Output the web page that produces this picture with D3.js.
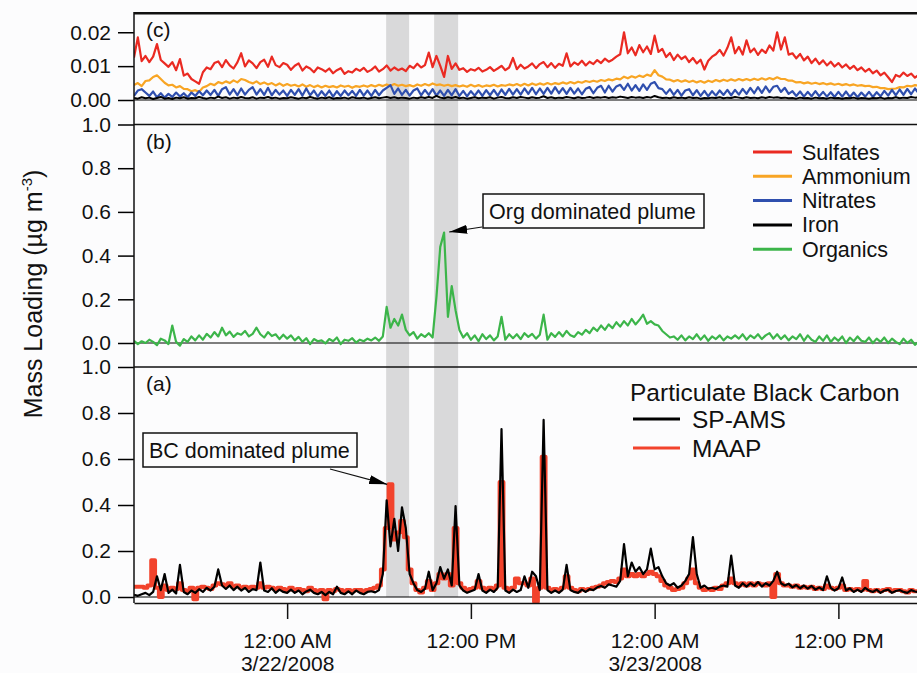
<!DOCTYPE html>
<html>
<head>
<meta charset="utf-8">
<script src="https://cdnjs.cloudflare.com/ajax/libs/d3/7.8.5/d3.min.js"></script>
<style>
  body { margin: 0; background: #fcfcfd; }
  svg { display: block; font-family: "Liberation Sans", Arial, Helvetica, sans-serif; }
</style>
</head>
<body>
<svg id="chart" width="917" height="673"></svg>
<script>
// 15 minute samples starting 3/21/2008 2:00 PM
var startTime = new Date(2008, 2, 21, 14, 0)
  , stepMinutes = 15;

// panel (c)
var sulfates = [
  0.0125, 0.0185, 0.0115, 0.013, 0.0112, 0.0128, 0.0165, 0.0118, 0.0108, 0.0098,
  0.0112, 0.0088, 0.0121, 0.0072, 0.0078, 0.0062, 0.0055, 0.0048, 0.0082, 0.0096,
  0.0091, 0.0109, 0.0114, 0.0097, 0.0118, 0.0102, 0.0093, 0.0111, 0.0138, 0.0099,
  0.0117, 0.0108, 0.0094, 0.0112, 0.0119, 0.0098, 0.0128, 0.0103, 0.0097, 0.0109,
  0.0104, 0.0089, 0.0101, 0.0108, 0.0087, 0.0099, 0.0093, 0.0082, 0.0096, 0.0091,
  0.0084, 0.0093, 0.0079, 0.0088, 0.0094, 0.0077, 0.0085, 0.0081, 0.0092, 0.0086,
  0.0095, 0.0083, 0.0089, 0.0099, 0.0084, 0.0091, 0.0102, 0.0087, 0.0096, 0.0088,
  0.0093, 0.0085, 0.0101, 0.0094, 0.0107, 0.0096, 0.0103, 0.014, 0.0097, 0.013,
  0.0101, 0.0068, 0.013, 0.0092, 0.0108, 0.0089, 0.0094, 0.0083, 0.0091, 0.0087,
  0.0095, 0.0084, 0.0089, 0.0097, 0.0086, 0.0093, 0.0101, 0.0088, 0.0096, 0.0124,
  0.0091, 0.0104, 0.0093, 0.0099, 0.0108, 0.0094, 0.0106, 0.0112, 0.0097, 0.0109,
  0.0095, 0.0107, 0.0101, 0.0138, 0.0099, 0.0111, 0.0104, 0.0116, 0.0102, 0.0113,
  0.0106, 0.0118, 0.0109, 0.0122, 0.0113, 0.0119, 0.0128, 0.0135, 0.02, 0.0138,
  0.0155, 0.0132, 0.0162, 0.0141, 0.0158, 0.0136, 0.019, 0.0142, 0.0151, 0.0127,
  0.0139, 0.0118, 0.0134, 0.0121, 0.0129, 0.0112, 0.0124, 0.0108, 0.0119, 0.009,
  0.0116, 0.0128, 0.0135, 0.0148, 0.0131, 0.0154, 0.0185, 0.0138, 0.0157, 0.0134,
  0.0176, 0.0141, 0.0152, 0.0133, 0.0149, 0.0139, 0.0161, 0.0146, 0.02, 0.0149,
  0.0185, 0.0134, 0.0138, 0.0123, 0.0136, 0.0117, 0.0128, 0.0109, 0.0122, 0.0106,
  0.0117, 0.0102, 0.0113, 0.0099, 0.0109, 0.0096, 0.0105, 0.0092, 0.0101, 0.0088,
  0.0096, 0.0084, 0.0092, 0.0079, 0.0087, 0.0073, 0.0081, 0.0067, 0.0053, 0.0074,
  0.0069, 0.0081, 0.0071, 0.0078, 0.0066, 0.0074
];

var ammonium = [
  0.0044, 0.005, 0.0041, 0.0056, 0.0058, 0.0068, 0.0073, 0.0062, 0.0051, 0.0043,
  0.0045, 0.0037, 0.0041, 0.0033, 0.0032, 0.0026, 0.0029, 0.0024, 0.0037, 0.0041,
  0.0048, 0.0044, 0.0053, 0.0049, 0.0055, 0.005, 0.0058, 0.0052, 0.0062, 0.0059,
  0.0053, 0.0049, 0.0055, 0.0047, 0.0052, 0.0046, 0.005, 0.0043, 0.0049, 0.0042,
  0.0047, 0.0042, 0.0045, 0.004, 0.0046, 0.0039, 0.0044, 0.0038, 0.0043, 0.0037,
  0.0042, 0.0038, 0.0041, 0.0037, 0.0043, 0.0039, 0.0042, 0.0036, 0.0041, 0.0039,
  0.0043, 0.0039, 0.0044, 0.004, 0.0045, 0.0041, 0.0046, 0.0042, 0.0047, 0.0042,
  0.0045, 0.0041, 0.0044, 0.004, 0.0046, 0.0042, 0.0047, 0.0043, 0.0049, 0.0044,
  0.0046, 0.0042, 0.0045, 0.0041, 0.0044, 0.004, 0.0043, 0.0039, 0.0045, 0.004,
  0.0044, 0.0039, 0.0043, 0.0041, 0.0045, 0.004, 0.0044, 0.0042, 0.0046, 0.0043,
  0.0047, 0.0042, 0.0048, 0.0043, 0.0049, 0.0044, 0.0049, 0.0045, 0.005, 0.0046,
  0.005, 0.0047, 0.0052, 0.0048, 0.0053, 0.0049, 0.0054, 0.0051, 0.0056, 0.0053,
  0.0057, 0.0054, 0.0059, 0.0056, 0.0061, 0.0058, 0.0063, 0.0061, 0.0069, 0.0064,
  0.007, 0.0066, 0.0072, 0.0068, 0.0075, 0.0071, 0.0088, 0.0073, 0.0069, 0.0061,
  0.006, 0.0055, 0.0059, 0.0054, 0.0058, 0.0053, 0.0057, 0.0052, 0.0056, 0.0051,
  0.0057, 0.0053, 0.0059, 0.0055, 0.006, 0.0056, 0.0061, 0.0057, 0.0062, 0.0058,
  0.0062, 0.0058, 0.0063, 0.0059, 0.0064, 0.006, 0.0065, 0.0061, 0.0067, 0.0062,
  0.0062, 0.0057, 0.0057, 0.0052, 0.0053, 0.0049, 0.0052, 0.0048, 0.0051, 0.0047,
  0.005, 0.0046, 0.0049, 0.0045, 0.0048, 0.0044, 0.0047, 0.0043, 0.0046, 0.0042,
  0.0044, 0.0041, 0.0042, 0.0038, 0.0039, 0.0035, 0.0035, 0.0032, 0.0033, 0.0034,
  0.0038, 0.0037, 0.0042, 0.004, 0.0044, 0.0042
];

var nitrates = [
  0.0012, 0.0028, 0.0032, 0.0022, 0.0012, 0.0025, 0.0008, 0.002, 0.0007, 0.0018,
  0.0009, 0.0022, 0.001, 0.002, 0.0008, 0.0022, 0.0012, 0.0026, 0.0014, 0.0028,
  0.0015, 0.003, 0.0012, 0.0032, 0.0038, 0.0016, 0.0032, 0.0014, 0.0034, 0.0016,
  0.003, 0.0038, 0.0016, 0.0032, 0.0015, 0.0036, 0.0014, 0.003, 0.0016, 0.0028,
  0.0012, 0.003, 0.0015, 0.0032, 0.0013, 0.0034, 0.0014, 0.0028, 0.001, 0.0026,
  0.0012, 0.0028, 0.001, 0.0026, 0.0012, 0.0028, 0.0014, 0.0027, 0.0012, 0.003,
  0.0013, 0.0028, 0.0012, 0.003, 0.0014, 0.0028, 0.0036, 0.0044, 0.0018, 0.0034,
  0.0015, 0.003, 0.0013, 0.0028, 0.0034, 0.0014, 0.003, 0.0015, 0.0032, 0.0013,
  0.0028, 0.0012, 0.003, 0.0014, 0.0032, 0.0012, 0.0027, 0.0011, 0.0026, 0.0013,
  0.0028, 0.0012, 0.0029, 0.0014, 0.003, 0.0013, 0.0031, 0.0015, 0.0033, 0.0016,
  0.0032, 0.0016, 0.0034, 0.0018, 0.0036, 0.0017, 0.0034, 0.0018, 0.0036, 0.0019,
  0.0038, 0.002, 0.0035, 0.0018, 0.0036, 0.0019, 0.0034, 0.0017, 0.0033, 0.0038,
  0.002, 0.0036, 0.0042, 0.0022, 0.0042, 0.0025, 0.004, 0.0045, 0.003, 0.0048,
  0.0028, 0.0044, 0.0027, 0.0046, 0.003, 0.0048, 0.0053, 0.0035, 0.0032, 0.0018,
  0.0032, 0.0015, 0.003, 0.0013, 0.0028, 0.0032, 0.0014, 0.0029, 0.0012, 0.0027,
  0.0011, 0.0026, 0.0013, 0.0028, 0.0015, 0.003, 0.0014, 0.003, 0.0016, 0.0033,
  0.0018, 0.0036, 0.002, 0.0038, 0.0021, 0.004, 0.0023, 0.0039, 0.0042, 0.0024,
  0.0036, 0.0018, 0.0026, 0.0012, 0.0025, 0.001, 0.0024, 0.0011, 0.0026, 0.0011,
  0.0024, 0.001, 0.0023, 0.0009, 0.0024, 0.001, 0.0025, 0.0009, 0.0022, 0.0008,
  0.0022, 0.001, 0.0024, 0.0009, 0.0023, 0.0011, 0.0027, 0.0013, 0.003, 0.0014,
  0.0031, 0.0015, 0.0033, 0.0017, 0.0034, 0.0019
];

var iron = [
  0.0006, 0.0004, 0.0008, 0.0005, 0.0007, 0.0003, 0.0006, 0.0009, 0.0004, 0.0006,
  0.0003, 0.0007, 0.0005, 0.0008, 0.0004, 0.0006, 0.0005, 0.0009, 0.0006, 0.0004,
  0.0007, 0.0005, 0.001, 0.0006, 0.0008, 0.0004, 0.0007, 0.0005, 0.0009, 0.0006,
  0.0005, 0.0008, 0.0004, 0.0007, 0.0006, 0.0009, 0.0005, 0.0007, 0.0004, 0.0006,
  0.0005, 0.0008, 0.0006, 0.0004, 0.0007, 0.0005, 0.0009, 0.0006, 0.0004, 0.0007,
  0.0005, 0.0008, 0.0004, 0.0006, 0.0005, 0.0007, 0.0004, 0.0008, 0.0006, 0.0005,
  0.0007, 0.0004, 0.0006, 0.0008, 0.0005, 0.0007, 0.0009, 0.0006, 0.0008, 0.0005,
  0.0007, 0.0006, 0.0004, 0.0007, 0.0005, 0.0008, 0.0006, 0.0009, 0.0006, 0.0012,
  0.0007, 0.0005, 0.0008, 0.0006, 0.0009, 0.0005, 0.0007, 0.0004, 0.0006, 0.0008,
  0.0005, 0.0007, 0.0006, 0.0008, 0.0004, 0.0007, 0.0009, 0.0006, 0.0005, 0.0008,
  0.0006, 0.0009, 0.0007, 0.0005, 0.0008, 0.0006, 0.0007, 0.0011, 0.0006, 0.0008,
  0.0005, 0.0007, 0.0006, 0.0009, 0.0007, 0.0005, 0.0008, 0.0006, 0.0007, 0.0009,
  0.0006, 0.0008, 0.0007, 0.0009, 0.0006, 0.0008, 0.0007, 0.001, 0.0008, 0.0006,
  0.0009, 0.0007, 0.0008, 0.0006, 0.0009, 0.0007, 0.0012, 0.0008, 0.0006, 0.0007,
  0.0005, 0.0008, 0.0006, 0.0007, 0.0005, 0.0008, 0.0006, 0.0007, 0.0004, 0.0006,
  0.0005, 0.0007, 0.0006, 0.0008, 0.0005, 0.0007, 0.0006, 0.0009, 0.0007, 0.0005,
  0.0008, 0.0006, 0.0007, 0.0005, 0.0008, 0.0006, 0.0009, 0.0007, 0.0008, 0.0006,
  0.0007, 0.0005, 0.0006, 0.0004, 0.0007, 0.0005, 0.0006, 0.0004, 0.0007, 0.0005,
  0.0006, 0.0004, 0.0007, 0.0005, 0.0006, 0.0004, 0.0006, 0.0005, 0.0007, 0.0004,
  0.0006, 0.0005, 0.0004, 0.0006, 0.0005, 0.0007, 0.0004, 0.0006, 0.0005, 0.0008,
  0.0005, 0.0007, 0.0006, 0.0009, 0.0007, 0.0008
];

// panel (b)
var organics = [
  0.01, -0.005, 0.008, 0.0, 0.015, 0.005, -0.01, 0.02, 0.012, -0.005,
  0.08, 0.005, -0.012, 0.018, 0.005, 0.03, 0.012, 0.035, 0.015, 0.042,
  0.025, 0.05, 0.03, 0.07, 0.035, 0.052, 0.028, 0.045, 0.038, 0.055,
  0.03, 0.042, 0.07, 0.04, 0.025, 0.05, 0.032, 0.04, 0.018, 0.038,
  0.02, 0.035, 0.012, 0.028, 0.005, 0.022, -0.005, 0.018, 0.008, 0.012,
  -0.002, 0.018, 0.008, 0.025, -0.005, 0.015, 0.01, 0.022, 0.002, 0.015,
  0.008, 0.02, 0.012, 0.025, 0.01, 0.03, 0.165, 0.07, 0.11, 0.08,
  0.13, 0.06, 0.035, 0.05, 0.02, 0.04, 0.028, 0.045, 0.025, 0.21,
  0.44, 0.505, 0.12, 0.26, 0.15, 0.06, 0.025, 0.045, 0.015, 0.035,
  0.008, 0.04, 0.018, 0.035, 0.012, 0.03, 0.12, 0.015, 0.04, 0.022,
  0.04, 0.018, 0.045, 0.028, 0.042, 0.02, 0.038, 0.13, 0.015, 0.045,
  0.028, 0.05, 0.03, 0.055, 0.035, 0.028, 0.05, 0.038, 0.06, 0.045,
  0.07, 0.055, 0.08, 0.06, 0.085, 0.068, 0.095, 0.075, 0.1, 0.08,
  0.11, 0.085, 0.105, 0.13, 0.088, 0.1, 0.085, 0.08, 0.055, 0.04,
  0.025, 0.03, 0.015, 0.035, 0.012, 0.03, 0.018, 0.04, 0.015, 0.035,
  0.01, 0.03, 0.018, 0.035, 0.012, 0.03, 0.02, 0.035, 0.02, 0.04,
  0.015, 0.035, 0.022, 0.04, 0.018, 0.035, 0.045, 0.02, 0.04, 0.018,
  0.035, 0.012, 0.03, 0.018, 0.04, 0.01, 0.035, 0.015, 0.005, 0.03,
  0.01, 0.035, 0.005, 0.025, 0.01, 0.03, 0.0, 0.025, 0.008, 0.03,
  0.01, 0.005, 0.025, 0.0, 0.02, 0.005, 0.025, 0.0, 0.02, 0.005,
  -0.005, 0.02, 0.0, 0.015, -0.008, 0.005
];

// panel (a) particulate black carbon
var spAms = [
  0.01, 0.005, 0.012, 0.018, 0.008, 0.022, 0.09, 0.03, 0.10, 0.018,
  0.032, 0.015, 0.14, 0.022, 0.012, 0.028, 0.018, 0.034, 0.022, 0.04,
  0.028, 0.045, 0.12, 0.05, 0.035, 0.05, 0.03, 0.045, 0.028, 0.04,
  0.022, 0.034, 0.03, 0.15, 0.028, 0.022, 0.038, 0.018, 0.032, 0.022,
  0.018, 0.032, 0.018, 0.028, 0.012, 0.024, 0.032, 0.018, 0.012, 0.022,
  0.008, 0.022, 0.012, 0.045, 0.018, 0.012, 0.024, 0.012, 0.028, 0.018,
  0.012, 0.022, 0.025, 0.02, 0.03, 0.10, 0.42, 0.22, 0.34, 0.20,
  0.39, 0.30, 0.10, 0.06, 0.03, 0.022, 0.035, 0.11, 0.03, 0.06,
  0.13, 0.08, 0.12, 0.05, 0.395, 0.05, 0.028, 0.018, 0.025, 0.032,
  0.10, 0.028, 0.018, 0.032, 0.022, 0.04, 0.73, 0.028, 0.018, 0.032,
  0.022, 0.03, 0.09, 0.04, 0.11, 0.09, 0.03, 0.77, 0.03, 0.018,
  0.028, 0.018, 0.032, 0.14, 0.03, 0.022, 0.018, 0.032, 0.022, 0.034,
  0.03, 0.042, 0.048, 0.04, 0.055, 0.05, 0.045, 0.07, 0.23, 0.09,
  0.15, 0.11, 0.13, 0.10, 0.12, 0.21, 0.12, 0.13, 0.09, 0.06,
  0.05, 0.06, 0.04, 0.05, 0.07, 0.10, 0.26, 0.10, 0.04, 0.05,
  0.036, 0.04, 0.035, 0.045, 0.05, 0.045, 0.18, 0.05, 0.04, 0.06,
  0.045, 0.06, 0.048, 0.065, 0.045, 0.06, 0.05, 0.07, 0.11, 0.06,
  0.05, 0.058, 0.042, 0.052, 0.038, 0.05, 0.036, 0.048, 0.032, 0.042,
  0.03, 0.09, 0.04, 0.028, 0.038, 0.085, 0.028, 0.038, 0.022, 0.032,
  0.022, 0.04, 0.028, 0.022, 0.032, 0.018, 0.028, 0.032, 0.018, 0.026,
  0.03, 0.022, 0.018, 0.03, 0.024, 0.02
];

var maap = [
  0.045, 0.045, 0.045, 0.04, 0.05, 0.16, 0.04, 0.0, 0.05, 0.03,
  0.04, 0.035, 0.06, 0.03, 0.025, 0.04, -0.01, 0.04, 0.045, 0.04,
  0.035, 0.05, 0.06, 0.055, 0.05, 0.06, 0.045, 0.05, 0.04, 0.045,
  0.04, 0.045, 0.04, 0.06, 0.04, 0.045, 0.04, 0.035, 0.04, 0.035,
  0.03, 0.04, 0.03, 0.035, 0.03, 0.025, 0.04, 0.03, 0.025, 0.03,
  -0.01, 0.03, 0.025, 0.035, 0.03, 0.025, 0.03, 0.025, 0.03, 0.03,
  0.025, 0.03, 0.035, 0.04, 0.05, 0.12, 0.30, 0.49, 0.25, 0.28,
  0.33, 0.26, 0.12, 0.06, 0.03, 0.02, 0.04, 0.07, 0.03, 0.06,
  0.10, 0.08, 0.10, 0.05, 0.30, 0.06, 0.04, 0.03, 0.035, 0.04,
  0.07, 0.04, 0.03, 0.04, 0.035, 0.05, 0.50, 0.04, 0.03, 0.04,
  0.08, 0.06, 0.06, 0.05, 0.08, -0.02, 0.04, 0.61, 0.04, 0.03,
  0.035, 0.03, 0.04, 0.09, 0.04, 0.03, 0.025, 0.035, 0.03, 0.035,
  0.04, 0.045, 0.05, 0.06, 0.065, 0.07, 0.065, 0.08, 0.12, 0.09,
  0.10, 0.09, 0.10, 0.09, 0.10, 0.11, 0.10, 0.09, 0.07, 0.05,
  0.04, 0.03, 0.035, 0.04, 0.06, 0.08, 0.12, 0.06, 0.04, 0.03,
  0.035, 0.03, 0.04, 0.035, 0.05, 0.06, 0.08, 0.06, 0.05, 0.06,
  0.05, 0.06, 0.05, 0.06, 0.055, 0.05, 0.06, 0.0, 0.10, 0.06,
  0.05, 0.05, 0.045, 0.05, 0.04, 0.045, 0.04, 0.045, 0.035, 0.04,
  0.035, 0.05, 0.04, 0.035, 0.04, 0.05, 0.03, 0.035, 0.03, 0.035,
  0.03, 0.07, 0.03, 0.025, 0.03, 0.025, 0.03, 0.035, 0.025, 0.03,
  0.03, 0.025, 0.02, 0.03, 0.025, 0.025
];

var tickDates = [
  new Date(2008, 2, 22, 0), new Date(2008, 2, 22, 12),
  new Date(2008, 2, 23, 0), new Date(2008, 2, 23, 12)
];
var tickLabels = [['12:00 AM', '3/22/2008'], ['12:00 PM'], ['12:00 AM', '3/23/2008'], ['12:00 PM']];
var plumeBands = [
  [new Date(2008, 2, 22, 6, 28), new Date(2008, 2, 22, 7, 58)],
  [new Date(2008, 2, 22, 9, 36), new Date(2008, 2, 22, 11, 10)]
];
var ticksC = [0, 0.01, 0.02]
  , ticksAB = [0, 0.2, 0.4, 0.6, 0.8, 1.0];
var speciesNames = ['Sulfates', 'Ammonium', 'Nitrates', 'Iron', 'Organics']
  , speciesColors = ['#ea2a22', '#f8a524', '#2f4fae', '#000000', '#3cb54a'];
var bcNames = ['SP-AMS', 'MAAP']
  , bcColors = ['#000000', '#f2432c'];

var times = spAms.map(function (d, i) {
  return new Date(startTime.getTime() + i * stepMinutes * 60000);
});

var left = 134
  , right = 917
  , axisY = 603;

var svg = d3.select('#chart');

var x = d3.scaleTime()
  .domain([startTime, new Date(2008, 2, 23, 17, 8)])
  .range([left, right]);

var panels = [
  { id: 'c', y: d3.scaleLinear().domain([0, 0.0256]).range([100, 13.3]), top: 13.3, bottom: 104, ticks: ticksC, fmt: '.2f', label: '(c)' },
  { id: 'b', y: d3.scaleLinear().domain([0, 1]).range([343, 124.5]), top: 124.5, bottom: 352, ticks: ticksAB, fmt: '.1f', label: '(b)' },
  { id: 'a', y: d3.scaleLinear().domain([0, 1]).range([597, 367]), top: 367, bottom: axisY, ticks: ticksAB, fmt: '.1f', label: '(a)' }
];
var yB = panels[1].y, yA = panels[2].y;

var defs = svg.append('defs');
panels.forEach(function (p) {
  defs.append('clipPath').attr('id', 'clip-' + p.id)
    .append('rect')
    .attr('x', left).attr('y', p.top)
    .attr('width', right - left).attr('height', p.bottom - p.top);
});
defs.append('marker')
  .attr('id', 'arrow')
  .attr('viewBox', '0 0 18 9')
  .attr('refX', 18).attr('refY', 4.5)
  .attr('markerWidth', 18).attr('markerHeight', 9)
  .attr('markerUnits', 'userSpaceOnUse')
  .attr('orient', 'auto')
  .append('path').attr('d', 'M0,0L18,4.5L0,9Z').attr('fill', '#000');

// grey plume bands behind everything
svg.append('g').selectAll('rect')
  .data(plumeBands)
  .enter().append('rect')
  .attr('x', function (d) { return x(d[0]); })
  .attr('width', function (d) { return x(d[1]) - x(d[0]); })
  .attr('y', 14)
  .attr('height', yA(0) - 14)
  .attr('fill', '#d9d9da');

// zero lines
panels.forEach(function (p) {
  svg.append('line')
    .attr('x1', left).attr('x2', right)
    .attr('y1', p.y(0)).attr('y2', p.y(0))
    .attr('stroke', '#000').attr('stroke-width', 1.2);
});

var drawSeries = function (p, values, color, width, curve) {
  var line = d3.line()
    .x(function (d, i) { return x(times[i]); })
    .y(function (d) { return p.y(d); })
    .curve(curve || d3.curveLinear);
  svg.append('path')
    .datum(values)
    .attr('clip-path', 'url(#clip-' + p.id + ')')
    .attr('d', line)
    .attr('fill', 'none')
    .attr('stroke', color)
    .attr('stroke-width', width)
    .attr('stroke-linejoin', 'round');
};

drawSeries(panels[0], sulfates, speciesColors[0], 2.2);
drawSeries(panels[0], ammonium, speciesColors[1], 2.2);
drawSeries(panels[0], nitrates, speciesColors[2], 2.2);
drawSeries(panels[0], iron, speciesColors[3], 2);
drawSeries(panels[1], organics, speciesColors[4], 2.2);
drawSeries(panels[2], maap, bcColors[1], 4, d3.curveStep);
drawSeries(panels[2], spAms, bcColors[0], 2.2);

// y axes
panels.forEach(function (p) {
  var g = svg.append('g')
    .attr('transform', 'translate(' + left + ',0)')
    .call(d3.axisLeft(p.y)
      .tickValues(p.ticks)
      .tickFormat(d3.format(p.fmt))
      .tickSize(16)
      .tickPadding(7));
  g.select('.domain').remove();
  g.selectAll('.tick line').attr('stroke', '#000').attr('stroke-width', 1.5);
  g.selectAll('.tick text')
    .attr('font-size', 21)
    .attr('font-family', '"Liberation Sans", Arial, sans-serif')
    .attr('fill', '#111');

  // top frame
  svg.append('line')
    .attr('x1', left).attr('x2', right)
    .attr('y1', p.top).attr('y2', p.top)
    .attr('stroke', '#111')
    .attr('stroke-width', p.id === 'c' ? 2.5 : 1.5);

  svg.append('text')
    .attr('x', left + 12)
    .attr('y', p.top + 24)
    .attr('font-size', 21)
    .attr('fill', '#111')
    .text(p.label);
});

// shared left spine
svg.append('line')
  .attr('x1', left).attr('x2', left)
  .attr('y1', 12).attr('y2', axisY)
  .attr('stroke', '#111').attr('stroke-width', 1.5);

// time axis
var xAxis = svg.append('g')
  .attr('transform', 'translate(0,' + axisY + ')')
  .call(d3.axisBottom(x)
    .tickValues(tickDates)
    .tickSize(16)
    .tickSizeOuter(0)
    .tickFormat(''));
xAxis.selectAll('line, path').attr('stroke', '#111').attr('stroke-width', 1.5);
xAxis.selectAll('.tick').each(function (d, i) {
  var t = d3.select(this).append('text')
    .attr('text-anchor', 'middle')
    .attr('font-size', 21)
    .attr('font-family', '"Liberation Sans", Arial, sans-serif')
    .attr('fill', '#111');
  tickLabels[i].forEach(function (s, k) {
    t.append('tspan').attr('x', 0).attr('y', 45 + k * 22.5).text(s);
  });
});

// y title
var title = svg.append('text')
  .attr('transform', 'translate(42,294) rotate(-90)')
  .attr('text-anchor', 'middle')
  .attr('font-size', 25)
  .attr('fill', '#111');
title.append('tspan').text('Mass Loading (µg m');
title.append('tspan').attr('font-size', 15).attr('dy', -10).text('-3');
title.append('tspan').attr('dy', 10).text(')');

// legend for (b)/(c)
var legB = svg.append('g').attr('transform', 'translate(753,152)');
speciesNames.forEach(function (name, k) {
  legB.append('line')
    .attr('x1', 0).attr('x2', 39)
    .attr('y1', k * 24.3).attr('y2', k * 24.3)
    .attr('stroke', speciesColors[k]).attr('stroke-width', 3);
  legB.append('text')
    .attr('x', 49).attr('y', k * 24.3).attr('dy', '0.35em')
    .attr('font-size', 21.5).attr('fill', '#111')
    .text(name);
});

// legend for (a)
var legA = svg.append('g').attr('transform', 'translate(630,392)');
legA.append('text')
  .attr('x', 0).attr('y', 0).attr('dy', '0.35em')
  .attr('font-size', 24.5).attr('fill', '#111')
  .text('Particulate Black Carbon');
bcNames.forEach(function (name, k) {
  var yy = 27 + k * 29;
  legA.append('line')
    .attr('x1', 3).attr('x2', 50)
    .attr('y1', yy).attr('y2', yy)
    .attr('stroke', bcColors[k]).attr('stroke-width', 3);
  legA.append('text')
    .attr('x', 62).attr('y', yy).attr('dy', '0.35em')
    .attr('font-size', 24.5).attr('fill', '#111')
    .text(name);
});

// plume call-outs
var callouts = [
  { text: 'BC dominated plume', box: [143, 433, 214, 34], from: [330, 469], at: new Date(2008, 2, 22, 6, 32), value: 0.49, y: yA },
  { text: 'Org dominated plume', box: [483, 194, 221, 34], from: [482, 227], at: new Date(2008, 2, 22, 10, 35), value: 0.508, y: yB }
];
callouts.forEach(function (c) {
  svg.append('rect')
    .attr('x', c.box[0]).attr('y', c.box[1])
    .attr('width', c.box[2]).attr('height', c.box[3])
    .attr('fill', '#fcfcfd')
    .attr('stroke', '#111').attr('stroke-width', 1.5);
  svg.append('text')
    .attr('x', c.box[0] + 6)
    .attr('y', c.box[1] + c.box[3] / 2)
    .attr('dy', '0.35em')
    .attr('font-size', 21.5).attr('fill', '#111')
    .text(c.text);
  svg.append('line')
    .attr('x1', c.from[0]).attr('y1', c.from[1])
    .attr('x2', x(c.at)).attr('y2', c.y(c.value))
    .attr('stroke', '#111').attr('stroke-width', 1.2)
    .attr('marker-end', 'url(#arrow)');
});
</script>
</body>
</html>
